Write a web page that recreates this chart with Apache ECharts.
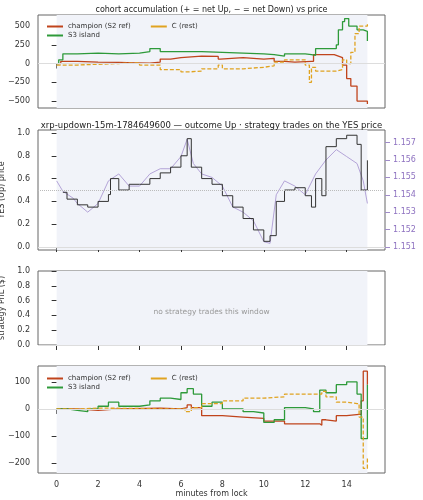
<!DOCTYPE html>
<html><head><meta charset="utf-8">
<script src="https://cdn.jsdelivr.net/npm/echarts@6/dist/echarts.min.js"></script>
<style>html,body{margin:0;padding:0;background:#fff}#con{width:423px;height:500px}</style>
</head><body><div id="con"></div>
<script>
// panel 1: accumulated net YES shares
var accChampT = [0,0.2,1,2,3,3.8,4.5,5,5.5,6,7,7.8,7.9,9,9.5,10,10.5,11,11.5,12.3,12.4,13.4,13.6,13.8,14,14.2,14.5,15];
var accChampV = [0,30,20,15,10,5,20,60,80,100,95,60,80,70,60,70,30,20,30,30,120,100,80,-20,-200,-300,-500,-540];
var accS3T = [0,0.1,0.3,1,2,3,4,4.5,5,6,7,8,9,10,10.5,11,12,12.3,12.5,13,13.5,13.6,13.8,13.9,14.1,14.5,14.8,15];
var accS3V = [0,50,130,140,130,140,160,200,160,160,150,140,130,120,100,130,120,110,200,200,250,450,560,600,500,450,430,300];
var accCT = [0,0.2,1,2,3,4,5,6,6.5,7,7.8,8,9,10,10.5,11,12,12.2,12.3,12.5,13,13.5,13.8,14,14.2,14.4,14.6,15];
var accCV = [-20,-20,-10,0,10,-20,-80,-110,-100,-70,-20,-70,-50,-30,20,50,-20,-250,-50,-100,-100,-80,50,0,150,400,500,550];
// panel 2: YES price and XRP/USD
var yesT = [0.3,0.5,1,1.5,2,2.5,2.6,3,3.5,4,4.5,5,5.5,6,6.3,6.5,7,7.5,8,8.5,9,9.5,10,10.3,10.6,11,11.5,12,12.3,12.5,12.8,13,13.5,14,14.5,14.7,15];
var yesV = [0.48,0.42,0.37,0.35,0.4,0.46,0.6,0.5,0.55,0.55,0.6,0.65,0.7,0.8,0.95,0.7,0.6,0.55,0.45,0.35,0.25,0.15,0.05,0.1,0.4,0.5,0.52,0.45,0.35,0.6,0.45,0.88,0.95,0.98,0.9,0.5,0.76];
var xrpT = [0,0.3,0.8,1,1.5,2,2.5,3,3.5,4,4.5,5,5.5,6,6.3,6.6,7,7.5,8,8.5,9,9.5,10,10.3,10.6,11,11.5,12,12.5,13,13.5,14,14.5,14.8,15];
var xrpV = [1.1548,1.1542,1.1538,1.1535,1.1530,1.1535,1.1548,1.1552,1.1545,1.1545,1.1552,1.1555,1.1555,1.1562,1.1572,1.1558,1.1552,1.155,1.1545,1.1533,1.1530,1.1525,1.1513,1.1512,1.1540,1.1548,1.1545,1.1540,1.1552,1.1560,1.1566,1.1562,1.1558,1.1548,1.1535];
// panel 4: cohort moving PnL
var pnlChampT = [0,1,2,3,5,6,6.3,6.5,6.9,7,8,9,10,11,12,12.7,12.8,13,13.5,14,14.6,14.7,14.8,15];
var pnlChampV = [0,-5,0,3,0,5,15,5,5,-25,-30,-35,-45,-55,-55,-60,-40,-45,-25,-20,-20,30,140,90];
var pnlS3T = [0,0.5,1,1.5,2,2.5,3,4,4.5,5,5.5,6,6.3,6.6,7,7.5,8,9,9.5,10,10.5,11,12,12.4,12.7,13,13.5,14,14.5,14.7,15];
var pnlS3V = [0,-5,-10,0,10,25,10,15,30,40,35,60,75,55,10,25,0,-10,-15,-50,-40,5,0,-10,70,60,90,100,55,-110,90];
var pnlCT = [0,1,2,4,5,6,6.2,6.5,7,8,9,10,11,12,12.8,13,13.5,14,14.5,14.6,14.8,15];
var pnlCV = [0,3,2,0,0,0,-10,5,20,30,40,45,55,55,65,45,25,20,20,-30,-220,-180];
var xTicks = [0,2,4,6,8,10,12,14];

function pts(t, v) { return t.map(function (x, i) { return [x, v[i]]; }); }
var RED = '#c0441c', GREEN = '#2e9a3a', GOLD = '#e0a320';
var lbl = {color: '#333', fontSize: 8};
var tops = [15, 130, 271, 366], hs = [93, 120, 74, 107];
var grids = tops.map(function (t, i) {
  return {left: 38, right: 38, top: t, height: hs[i], show: true, borderColor: '#666', borderWidth: 1,
    backgroundColor: '#fff', containLabel: false, outerBoundsMode: 'none'};
});
var xAxes = tops.map(function (t, i) {
  return {type: 'value', gridIndex: i, min: -0.9, max: 15.85,
    axisLine: {show: false}, splitLine: {show: false},
    axisTick: {show: true, customValues: xTicks, lineStyle: {color: '#333'}},
    axisLabel: Object.assign({show: i == 3, customValues: xTicks}, lbl),
    name: i == 3 ? 'minutes from lock' : '', nameLocation: 'middle', nameGap: 15,
    nameTextStyle: {fontSize: 8, color: '#333'}};
});
function yAx(grid, min, max, ticks, name, extra) {
  return Object.assign({type: 'value', gridIndex: grid, min: min, max: max,
    axisLine: {show: false}, splitLine: {show: false},
    axisTick: {show: true, customValues: ticks, lineStyle: {color: '#333'}},
    axisLabel: Object.assign({customValues: ticks, formatter: function (v) { return String(v).replace('-', '\u2212'); }}, lbl),
    name: name, nameLocation: 'middle', nameGap: 26, nameTextStyle: {fontSize: 8, color: '#333'}}, extra || {});
}
var yAxes = [
  yAx(0, -593, 647, [-500, -250, 0, 250, 500], 'acc. net YES (shares)'),
  yAx(1, -0.026, 1.026, [0, 0.2, 0.4, 0.6, 0.8, 1.0], 'YES (Up) price', {axisLabel: Object.assign({customValues: [0, 0.2, 0.4, 0.6, 0.8, 1.0], formatter: function (v) { return v.toFixed(1); }}, lbl), nameGap: 22}),
  yAx(1, 1.15082, 1.15773, [1.151, 1.152, 1.153, 1.154, 1.155, 1.156, 1.157], 'XRP/USD (strike dotted = YES 0.5)',
    {position: 'right', nameGap: 30, nameTextStyle: {fontSize: 7, color: '#a08cc8'},
     axisTick: {show: true, customValues: [1.151, 1.152, 1.153, 1.154, 1.155, 1.156, 1.157], lineStyle: {color: '#a08cc8'}},
     axisLabel: {customValues: [1.151, 1.152, 1.153, 1.154, 1.155, 1.156, 1.157], color: '#8e72c0', fontSize: 8, formatter: function (v) { return v.toFixed(3); }}}),
  yAx(2, 0, 1, [0, 0.2, 0.4, 0.6, 0.8, 1.0], 'strategy PnL ($)', {axisLabel: Object.assign({customValues: [0, 0.2, 0.4, 0.6, 0.8, 1.0], formatter: function (v) { return v.toFixed(1); }}, lbl), nameGap: 22}),
  yAx(3, -237, 159, [-200, -100, 0, 100], 'cohort moving PnL ($)')
];
function band(xi, yi) {
  return {type: 'line', xAxisIndex: xi, yAxisIndex: yi, data: [], silent: true,
    markArea: {silent: true, itemStyle: {color: '#f1f3f9'}, data: [[{xAxis: 0}, {xAxis: 15}]]},
    markLine: {silent: true, symbol: 'none', label: {show: false}, lineStyle: {color: '#ddd', type: 'solid', width: 1}, data: [{yAxis: 0}]}};
}
function step(name, xi, yi, t, v, color, dashed, w) {
  return {name: name, type: 'line', step: 'end', xAxisIndex: xi, yAxisIndex: yi, data: pts(t, v),
    symbol: 'none', lineStyle: {color: color, width: w || 1.3, type: dashed ? [4, 2] : 'solid'}, itemStyle: {color: color}};
}
var leg = {itemWidth: 16, itemHeight: 2, textStyle: {fontSize: 7, color: '#333'}, icon: 'rect', itemGap: 20};
var series = [
  band(0, 0), band(1, 1), band(2, 3), band(3, 4),
  step('champion (S2 ref)', 0, 0, accChampT, accChampV, RED),
  step('S3 island', 0, 0, accS3T, accS3V, GREEN),
  step('C (rest)', 0, 0, accCT, accCV, GOLD, true),
  {type: 'line', xAxisIndex: 1, yAxisIndex: 2, data: pts(xrpT, xrpV), symbol: 'none', lineStyle: {color: '#b4a4d8', width: 1}},
  {type: 'line', step: 'end', xAxisIndex: 1, yAxisIndex: 1, data: pts(yesT, yesV), symbol: 'none', lineStyle: {color: '#333', width: 1},
    markLine: {silent: true, symbol: 'none', label: {show: false}, lineStyle: {color: '#bbb', type: 'dotted', width: 1}, data: [{yAxis: 0.5}]}},
  step('champion (S2 ref)', 3, 4, pnlChampT, pnlChampV, RED),
  step('S3 island', 3, 4, pnlS3T, pnlS3V, GREEN),
  step('C (rest)', 3, 4, pnlCT, pnlCV, GOLD, true)
];
var chart = echarts.init(document.getElementById('con'), null, {renderer: 'canvas'});
chart.setOption({
  animation: false,
  textStyle: {fontFamily: 'DejaVu Sans'},
  title: [
    {text: 'cohort accumulation (+ = net Up, \u2212 = net Down) vs price', left: 'center', top: 1, textStyle: {fontSize: 8, fontWeight: 'normal', color: '#222'}},
    {text: 'xrp-updown-15m-1784649600 \u2014 outcome Up \u00b7 strategy trades on the YES price', left: 'center', top: 116, textStyle: {fontSize: 8.5, fontWeight: 'normal', color: '#222'}},
    {text: 'no strategy trades this window', left: 'center', top: 303, textStyle: {fontSize: 7.5, fontWeight: 'normal', color: '#999'}}
  ],
  legend: [
    Object.assign({data: ['champion (S2 ref)', 'C (rest)'], left: 42, top: 18}, leg),
    Object.assign({data: ['S3 island'], left: 42, top: 27}, leg),
    Object.assign({data: ['champion (S2 ref)', 'C (rest)'], left: 42, top: 370}, leg),
    Object.assign({data: ['S3 island'], left: 42, top: 379}, leg)
  ],
  grid: grids, xAxis: xAxes, yAxis: yAxes, series: series
});
</script></body></html>
